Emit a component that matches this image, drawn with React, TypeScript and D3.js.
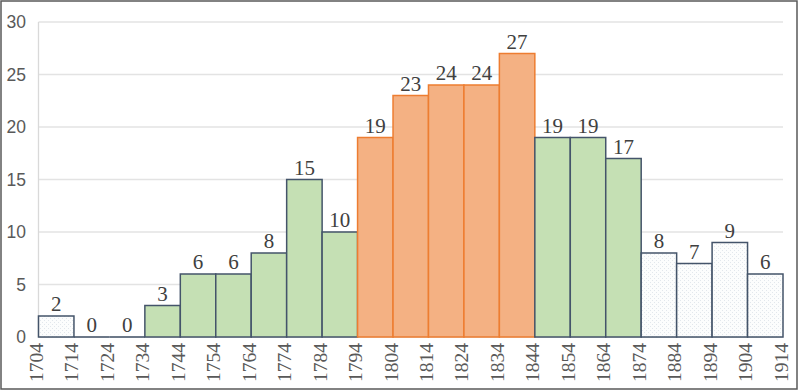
import React from "react";
import * as d3 from "d3";

const binStarts = [1704, 1714, 1724, 1734, 1744, 1754, 1764, 1774, 1784, 1794, 1804, 1814, 1824, 1834, 1844, 1854, 1864, 1874, 1884, 1894, 1904];
const counts = [2, 0, 0, 3, 6, 6, 8, 15, 10, 19, 23, 24, 24, 27, 19, 19, 17, 8, 7, 9, 6];
const groups = ["p", "p", "p", "g", "g", "g", "g", "g", "g", "o", "o", "o", "o", "o", "g", "g", "g", "p", "p", "p", "p"];
const edgeLabels = ["1704", "1714", "1724", "1734", "1744", "1754", "1764", "1774", "1784", "1794", "1804", "1814", "1824", "1834", "1844", "1854", "1864", "1874", "1884", "1894", "1904", "1914"];
const yTicks = [0, 5, 10, 15, 20, 25, 30];

const W = 798, H = 392;
const left = 38.5, right = 783, top = 22, bottom = 337;

const fills = { p: "url(#dots)", g: "#C5E0B4", o: "#F4B183" };
const strokes = { p: "#44546A", g: "#44546A", o: "#ED7D31" };

export default function App() {
  const x = d3.scaleLinear().domain([1704, 1914]).range([left, right]);
  const y = d3.scaleLinear().domain([0, 30]).range([bottom, top]);
  return (
    <svg width={W} height={H} style={{ position: "absolute", left: 0, top: 0, background: "#fff" }}>
      <defs>
        <pattern id="dots" width="4" height="4" patternUnits="userSpaceOnUse">
          <rect width="4" height="4" fill="#FCFDFD" />
          <rect x="0" y="0" width="1" height="1" fill="#E2E7EC" />
          <rect x="2" y="2" width="1" height="1" fill="#E2E7EC" />
        </pattern>
      </defs>
      <rect x={0} y={0} width={W} height={H} fill="#fff" />
      {yTicks.map((t) => (
        <g key={"y" + t}>
          {t > 0 && <line x1={left} x2={right} y1={y(t)} y2={y(t)} stroke="#E3E3E3" strokeWidth={1.3} />}
          <text x={26} y={y(t) + 6} textAnchor="end" fontFamily="Liberation Sans" fontSize={17.5} fill="#595959">{t}</text>
        </g>
      ))}
      <line x1={left} x2={left} y1={top} y2={bottom} stroke="#D9D9D9" strokeWidth={1.3} />
      <line x1={left} x2={right} y1={bottom} y2={bottom} stroke="#D9D9D9" strokeWidth={1.3} />
      {binStarts.map((s, i) => {
        const x0 = x(s), x1 = x(s + 10);
        const yy = y(counts[i]);
        return (
          <g key={"b" + s}>
            {counts[i] > 0 ? (
              <rect x={x0} y={yy} width={x1 - x0} height={bottom - yy} fill={fills[groups[i]]} stroke={strokes[groups[i]]} strokeWidth={1.5} />
            ) : (
              <line x1={x0} x2={x1} y1={bottom} y2={bottom} stroke={strokes[groups[i]]} strokeWidth={1.5} />
            )}
            <text x={(x0 + x1) / 2} y={yy - 5} textAnchor="middle" fontFamily="Liberation Serif" fontSize={21} fill="#404040">{counts[i]}</text>
          </g>
        );
      })}
      {edgeLabels.map((l, i) => {
        const xx = x(1704 + i * 10) + 4.5;
        return (
          <text key={"x" + l} x={xx} y={343} textAnchor="end" style={{ writingMode: "sideways-lr" } as any} fontFamily="Liberation Serif" fontSize={19.5} fill="#595959">{l}</text>
        );
      })}
      <rect x={1} y={1} width={796} height={388} fill="none" stroke="#595959" strokeWidth={1.5} />
    </svg>
  );
}
